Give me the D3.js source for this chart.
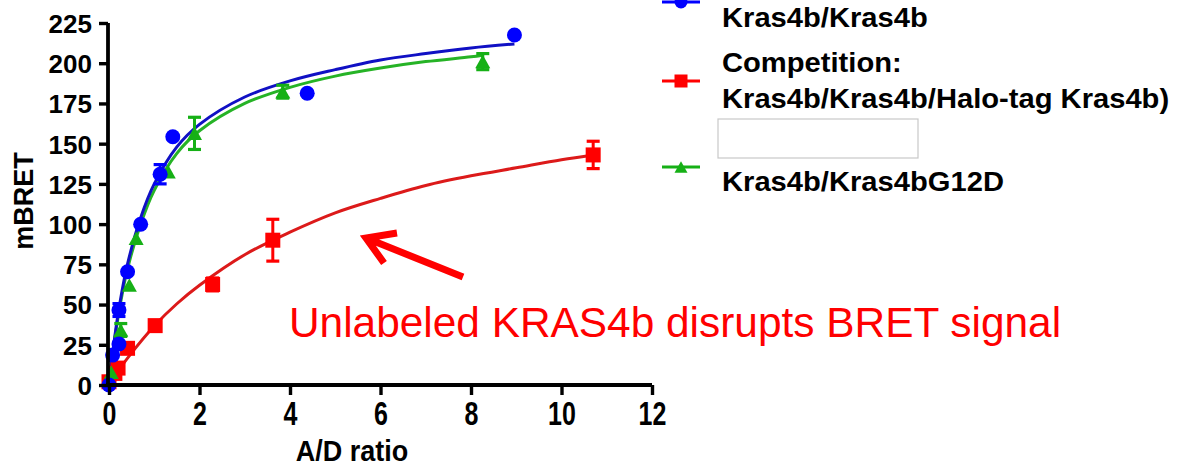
<!DOCTYPE html>
<html>
<head>
<meta charset="utf-8">
<script src="https://cdn.jsdelivr.net/npm/d3@7"></script>
<style>
  html, body { margin: 0; padding: 0; background: #fff; }
  svg { display: block; font-family: "Liberation Sans", Arial, sans-serif; }
</style>
</head>
<body>
<svg id="chart" width="1186" height="466"></svg>
<script>
// Axis ticks
const xTicks = [0, 2, 4, 6, 8, 10, 12];
const yTicks = [0, 25, 50, 75, 100, 125, 150, 175, 200, 225];

// Kras4b/Kras4b (donor/acceptor pair) — measured points
const blueX   = [0, 0.08, 0.22, 0.22, 0.41, 0.70, 1.13, 1.41, 4.38, 8.96];
const blueY   = [0, 18.6, 25.5, 46.6, 70.4, 99.9, 131, 154.3, 181.3, 217.5];
const blueErr = [0, 0, 0, 4, 0, 0, 6, 0, 0, 0];
// saturation fit for Kras4b/Kras4b
const blueFitX = [0, 0.1, 0.2, 0.4, 0.7, 1, 1.5, 2, 3, 4, 5, 6, 7, 8, 8.96];
const blueFitY = [0, 24, 44, 74, 104, 125, 148, 162, 179, 189, 196, 202, 206, 209.5, 212];

// Competition: Kras4b/Kras4b/Halo-tag Kras4b
const redX   = [0, 0.13, 0.2, 0.41, 1.02, 2.29, 3.62, 10.70];
const redY   = [2, 7.2, 10.5, 22.8, 36.9, 62.5, 90, 143];
const redErr = [0, 0, 0, 0, 0, 4, 13, 8.5];
const redFitX = [0, 0.25, 0.5, 1, 1.5, 2, 3, 4, 5, 6, 7, 8, 9, 10, 10.7];
const redFitY = [0, 10.6, 20, 36.7, 50.5, 62, 81, 95, 107, 116, 124, 130, 135, 140, 143];

// Kras4b/Kras4bG12D
const greenX   = [0.05, 0.26, 0.45, 0.60, 1.31, 1.89, 3.84, 8.26];
const greenY   = [8, 34.2, 62.1, 91.2, 132.6, 156.4, 182.3, 201];
const greenErr = [0, 4, 0, 0, 0, 10, 4, 5];
const greenFitX = [0, 0.1, 0.2, 0.4, 0.7, 1, 1.5, 2, 3, 4, 5, 6, 7, 8, 8.26];
const greenFitY = [0, 23, 42, 71, 100, 121, 144, 158, 175, 185, 192, 197, 201, 204, 205];

const legendLabels = [
  ["Kras4b/Kras4b"],
  ["Competition:", "Kras4b/Kras4b/Halo-tag Kras4b)"],
  ["Kras4b/Kras4bG12D"]
];
const annotation = "Unlabeled KRAS4b disrupts BRET signal";

const svg = d3.select("#chart");

const x = d3.scaleLinear().domain([0, 12]).range([109, 652]);
const y = d3.scaleLinear().domain([0, 225]).range([385, 23]);

const blue = { xs: blueX, ys: blueY, err: blueErr, fx: blueFitX, fy: blueFitY,
  mark: "#0000ff", line: "#1010c4", shape: "circle" };
const green = { xs: greenX, ys: greenY, err: greenErr, fx: greenFitX, fy: greenFitY,
  mark: "#16b016", line: "#26b326", shape: "triangle" };
const red = { xs: redX, ys: redY, err: redErr, fx: redFitX, fy: redFitY,
  mark: "#ff0000", line: "#dc1a1a", shape: "square" };
// drawing order: competition underneath, Kras4b/Kras4b on top
const series = [red, green, blue];

function drawMarker(g, shape, cx, cy, color, s) {
  if (shape === "circle") {
    g.append("circle").attr("cx", cx).attr("cy", cy).attr("r", s / 2).attr("fill", color);
  } else if (shape === "square") {
    g.append("rect").attr("x", cx - s / 2).attr("y", cy - s / 2)
      .attr("width", s).attr("height", s).attr("fill", color);
  } else {
    const h = s * 0.9;
    g.append("path")
      .attr("d", `M${cx},${cy - h / 2}L${cx + s / 2},${cy + h / 2}L${cx - s / 2},${cy + h / 2}Z`)
      .attr("fill", color);
  }
}

// fitted curves
const line = d3.line().x(d => x(d[0])).y(d => y(d[1])).curve(d3.curveCatmullRom.alpha(0.5));
series.forEach(s => {
  svg.append("path")
    .datum(s.fx.map((v, i) => [v, s.fy[i]]))
    .attr("d", line)
    .attr("fill", "none")
    .attr("stroke", s.line)
    .attr("stroke-width", 3);
});

// error bars and points
series.forEach(s => {
  const g = svg.append("g");
  s.xs.forEach((xv, i) => {
    const e = s.err[i];
    if (e > 0) {
      const px = x(xv);
      g.append("line").attr("x1", px).attr("x2", px)
        .attr("y1", y(s.ys[i] - e)).attr("y2", y(s.ys[i] + e))
        .attr("stroke", s.mark).attr("stroke-width", 3);
      [s.ys[i] - e, s.ys[i] + e].forEach(v => {
        g.append("line").attr("x1", px - 6.5).attr("x2", px + 6.5)
          .attr("y1", y(v)).attr("y2", y(v))
          .attr("stroke", s.mark).attr("stroke-width", 3.2);
      });
    }
    drawMarker(g, s.shape, x(xv), y(s.ys[i]), s.mark, 15);
  });
});

// axes
const xAxis = svg.append("g").attr("transform", "translate(0,385)")
  .call(d3.axisBottom(x).tickValues(xTicks).tickSize(10).tickSizeOuter(0));
const yAxis = svg.append("g").attr("transform", "translate(108,0)")
  .call(d3.axisLeft(y).tickValues(yTicks).tickSize(9).tickPadding(7).tickSizeOuter(0));

[xAxis, yAxis].forEach(a => {
  a.select(".domain").attr("stroke", "#000").attr("stroke-width", 3.8);
  a.selectAll(".tick line").attr("stroke", "#000").attr("stroke-width", 3.4);
  a.selectAll(".tick text").attr("fill", "#000").attr("font-weight", "bold")
    .attr("font-family", "Liberation Sans, Arial, sans-serif");
});
xAxis.select(".domain").attr("d", "M106,0H652");
yAxis.select(".domain").attr("d", "M0,23V387");
xAxis.selectAll(".tick text").attr("font-size", 25).attr("y", 0).attr("dy", 0)
  .attr("transform", "translate(0,40) scale(1,1.3)");
yAxis.selectAll(".tick text").attr("font-size", 26).attr("dy", "0.36em");

// axis titles
svg.append("text").attr("transform", "translate(352,461) scale(1,1.08)")
  .attr("text-anchor", "middle")
  .attr("font-size", 27).attr("font-weight", "bold").text("A/D ratio");
svg.append("text").attr("transform", "translate(33,201) rotate(-90)")
  .attr("text-anchor", "middle").attr("font-size", 27).attr("font-weight", "bold").text("mBRET");

// legend
const lg = svg.append("g");
const legendItems = [
  { s: blue, y: 2, text: legendLabels[0], ty: [27] },
  { s: red, y: 81, text: legendLabels[1], ty: [72, 108] },
  { s: green, y: 167, text: legendLabels[2], ty: [191] }
];
legendItems.forEach(it => {
  lg.append("line").attr("x1", 662).attr("x2", 700).attr("y1", it.y).attr("y2", it.y)
    .attr("stroke", it.s.mark).attr("stroke-width", 3);
  drawMarker(lg, it.s.shape, 681, it.y, it.s.mark, 13);
  it.text.forEach((t, k) => {
    lg.append("text").attr("transform", `translate(722,${it.ty[k]}) scale(1.08,1.03)`)
      .attr("font-size", 27).attr("font-weight", "bold").attr("fill", "#000").text(t);
  });
});
lg.append("rect").attr("x", 718).attr("y", 119).attr("width", 200).attr("height", 39)
  .attr("fill", "#fff").attr("stroke", "#c8c8c8").attr("stroke-width", 1.2);

// annotation
svg.append("path")
  .attr("d", "M463,277L366,238M397,233L366,238L384,263")
  .attr("fill", "none").attr("stroke", "#ff0000").attr("stroke-width", 7)
  .attr("stroke-linejoin", "miter").attr("stroke-linecap", "butt");
svg.append("text").attr("x", 289).attr("y", 337).attr("font-size", 42.4)
  .attr("fill", "#ff0000").text(annotation);
</script>
</body>
</html>
